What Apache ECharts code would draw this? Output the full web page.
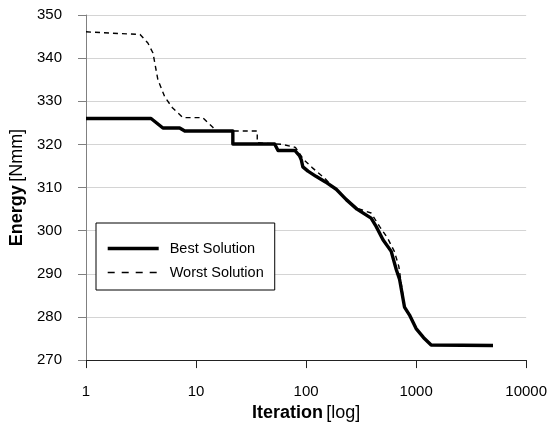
<!DOCTYPE html>
<html>
<head>
<meta charset="utf-8">
<script src="https://cdn.jsdelivr.net/npm/echarts@6/dist/echarts.min.js"></script>
<style>html,body{margin:0;padding:0;background:#fff}#c{width:550px;height:427px}</style>
</head>
<body>
<div id="c"></div>
<script>
var yTicks = [270, 280, 290, 300, 310, 320, 330, 340, 350];
var xTicks = [1, 10, 100, 1000, 10000];
var seriesNames = ['Best Solution', 'Worst Solution'];

var bestIter   = [1, 3.9, 5, 7.1, 7.9, 21.6, 21.6, 51.8, 55.6, 79, 83, 87, 90.5, 93.5, 104, 123, 150, 188, 232, 290, 390, 433, 500, 594, 660, 708, 784, 869, 1000, 1170, 1370, 5000];
var bestEnergy = [326, 326, 323.8, 323.8, 323.1, 323.1, 320.1, 320.1, 318.6, 318.6, 318, 317.4, 316.4, 314.8, 313.8, 312.6, 311.3, 309.6, 307.2, 305, 302.9, 301, 297.9, 295.2, 291, 288.7, 282.3, 280.5, 277.3, 275.2, 273.5, 273.4];

var worstIter   = [1, 2, 3.1, 3.65, 4.06, 4.5, 5.2, 6.1, 7.6, 11.5, 14.2, 15, 36, 36, 61, 80, 95, 115, 147, 175, 232, 290, 390, 465, 550, 634, 697, 730, 760];
var worstEnergy = [346.1, 345.7, 345.5, 343.5, 341.2, 335, 331, 328.5, 326.2, 326.2, 324, 323.1, 323.1, 320.4, 320, 319.3, 316.5, 314.5, 312.2, 310.2, 307.4, 305.2, 304.1, 301, 298.3, 295.2, 291.7, 288, 285];

function pairs(xs, ys) { return xs.map(function (x, i) { return [x, ys[i]]; }); }

var chart = echarts.init(document.getElementById('c'));
chart.setOption({
  animation: false,
  backgroundColor: '#fff',
  textStyle: { fontFamily: 'Liberation Sans, Arial, sans-serif' },
  grid: { left: 86, right: 23, top: 15, bottom: 66.5 },
  legend: {
    orient: 'vertical',
    left: 96, top: 223,
    data: [
      { name: seriesNames[0], lineStyle: { width: 3.4 } },
      { name: seriesNames[1], lineStyle: { width: 1.6, type: [7, 7] } }
    ],
    backgroundColor: '#fff',
    borderColor: '#000', borderWidth: 1,
    padding: [18, 11, 10, 10],
    itemWidth: 51, itemHeight: 14, itemGap: 9,
    itemStyle: { opacity: 0 },
    textStyle: { fontSize: 14.5, color: '#000', padding: [0, 0, 0, 6], fontFamily: 'Liberation Sans' }
  },
  xAxis: {
    type: 'log', logBase: 10, min: xTicks[0], max: xTicks[xTicks.length - 1],
    name: '{b|Iteration} {n|[log]}',
    nameLocation: 'middle', nameGap: 43,
    nameTextStyle: { rich: {
      b: { fontSize: 18, fontWeight: 'bold', color: '#000', fontFamily: 'Liberation Sans' },
      n: { fontSize: 18, color: '#000', fontFamily: 'Liberation Sans' }
    } },
    axisLine: { lineStyle: { color: '#222', width: 1 } },
    axisTick: { show: true, inside: false, length: 8, lineStyle: { color: '#222' } },
    minorTick: { show: false },
    splitLine: { show: false },
    axisLabel: { fontSize: 15, color: '#000', margin: 24, fontFamily: 'Liberation Sans',
      formatter: function (v) { return String(Math.round(v)); } }
  },
  yAxis: {
    type: 'value', min: yTicks[0], max: yTicks[yTicks.length - 1], interval: 10,
    name: '{b|Energy} {n|[Nmm]}',
    nameLocation: 'middle', nameGap: 56, nameRotate: 90,
    nameTextStyle: { rich: {
      b: { fontSize: 18, fontWeight: 'bold', color: '#000', fontFamily: 'Liberation Sans' },
      n: { fontSize: 18, color: '#000', fontFamily: 'Liberation Sans' }
    } },
    axisLine: { show: true, lineStyle: { color: '#808080', width: 1 } },
    axisTick: { show: true, inside: false, length: 8, lineStyle: { color: '#808080' } },
    splitLine: { show: true, lineStyle: { color: '#d4d4d4', width: 1 } },
    axisLabel: { fontSize: 15, color: '#000', margin: 24, fontFamily: 'Liberation Sans' }
  },
  series: [
    {
      name: seriesNames[0], type: 'line', symbol: 'none', z: 3,
      data: pairs(bestIter, bestEnergy),
      lineStyle: { color: '#000', width: 3.4, join: 'round' },
      itemStyle: { color: '#000' }
    },
    {
      name: seriesNames[1], type: 'line', symbol: 'none', z: 2,
      data: pairs(worstIter, worstEnergy),
      lineStyle: { color: '#000', width: 1.4, type: [5, 4] },
      itemStyle: { color: '#000' }
    }
  ]
});
</script>
</body>
</html>
